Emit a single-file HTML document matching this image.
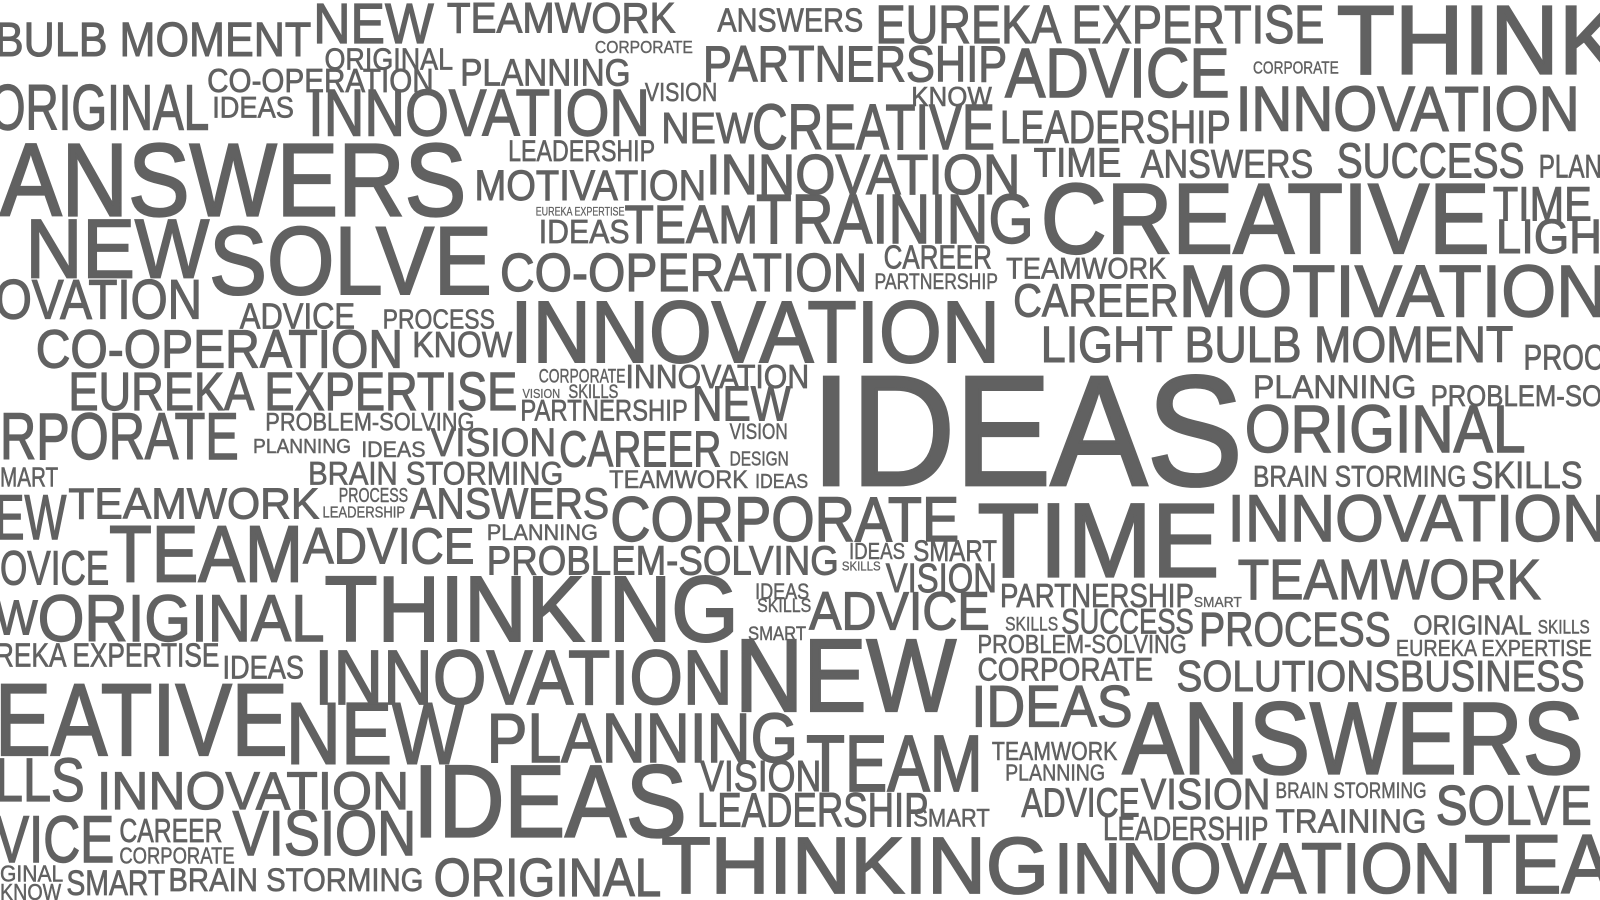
<!DOCTYPE html>
<html>
<head>
<meta charset="utf-8">
<style>
html,body{margin:0;padding:0;background:#fff;width:1600px;height:900px;overflow:hidden;}
svg{display:block;}
text{font-family:"Liberation Sans","DejaVu Sans",sans-serif;fill:#616161;stroke:#616161;}
</style>
</head>
<body>
<svg id="cloud" width="1600" height="900" viewBox="0 0 1600 900" xmlns="http://www.w3.org/2000/svg">
<defs><clipPath id="clip"><rect x="0" y="0" width="1600" height="900"/></clipPath></defs>
<g clip-path="url(#clip)">
<g id="words" transform="scale(1.0204)"></g>
</g>
</svg>
<script>
// word, left x, right x, baseline y, cap height
const words = [
["BULB MOMENT",-5,305,55,33],["NEW",307,425,42,39],["TEAMWORK",438,662,32,29],["ANSWERS",703,846,31,23],
["EUREKA EXPERTISE",858,1298,42,37],["THINK",1310,1590,72,67],["ORIGINAL",318,444,68,21],["CORPORATE",583,679,52,12],
["PARTNERSHIP",689,987,80,35],["ADVICE",985,1205,95,48],["CORPORATE",1228,1312,72,12],["CO-OPERATION",203,425,90,23],
["PLANNING",451,618,84,26],["ORIGINAL",-10,205,127,44],["IDEAS",208,288,115,20],["INNOVATION",302,637,133,45],
["VISION",632,703,99,18],["KNOW",893,972,104,19],["INNOVATION",1211,1548,128,43],["NEW",648,738,140,30],
["CREATIVE",737,975,146,44],["LEADERSHIP",980,1206,140,32],["LEADERSHIP",498,642,158,20],["ANSWERS",0,457,211,71],
["MOTIVATION",465,692,196,29],["INNOVATION",692,1000,190,39],["TIME",1013,1099,173,28],["ANSWERS",1118,1287,174,27],
["SUCCESS",1310,1494,174,34],["PLAN",1508,1570,174,22],["CREATIVE",1020,1460,248,68],["TIME",1463,1560,216,33],
["LIGH",1466,1570,248,33],["EUREKA EXPERTISE",525,612,211,8],["TEAM",612,743,238,37],["TRAINING",741,1013,238,48],
["IDEAS",528,617,238,23],["NEW",25,205,272,57],["SOLVE",205,482,288,66],["CO-OPERATION",490,850,285,37],
["CAREER",866,972,263,23],["PARTNERSHIP",857,978,283,15],["TEAMWORK",986,1143,273,20],["CAREER",993,1155,310,32],
["MOTIVATION",1155,1575,310,50],["OVATION",-5,198,312,38],["ADVICE",235,348,322,25],["PROCESS",375,485,322,19],
["INNOVATION",500,980,355,60],["CO-OPERATION",35,395,360,37],["KNOW",404,502,350,25],["LIGHT BULB MOMENT",1020,1483,355,35],
["PROC",1493,1572,362,24],["EUREKA EXPERTISE",67,507,402,37],["CORPORATE",528,613,375,13],["INNOVATION",613,793,380,23],
["VISION",512,549,390,9],["SKILLS",557,606,390,13],["IDEAS",795,1218,475,107],["PLANNING",1228,1388,390,22],
["PROBLEM-SO",1402,1570,398,20],["PARTNERSHIP",510,674,412,20],["NEW",678,775,412,34],["VISION",715,772,430,15],
["RPORATE",0,234,450,45],["PROBLEM-SOLVING",260,465,422,17],["ORIGINAL",1220,1495,443,46],["PLANNING",248,344,444,14],
["IDEAS",354,417,448,15],["VISION",422,545,447,27],["CAREER",548,707,457,35],["DESIGN",715,773,456,14],
["MART",0,57,477,19],["BRAIN STORMING",302,552,475,22],["TEAMWORK",597,733,478,17],["IDEAS",740,792,478,14],
["BRAIN STORMING",1228,1437,477,20],["SKILLS",1442,1551,478,26],["EW",-5,65,528,43],["TEAMWORK",67,313,508,30],
["PROCESS",332,400,492,14],["LEADERSHIP",316,397,507,11],["ANSWERS",402,597,508,30],["CORPORATE",598,940,530,43],
["TIME",958,1195,565,72],["INNOVATION",1203,1575,530,45],["TEAM",107,297,570,55],["ADVICE",297,465,552,35],
["PLANNING",477,586,529,15],["OVICE",0,107,573,33],["PROBLEM-SOLVING",477,822,563,28],["IDEAS",832,887,548,16],
["SKILLS",825,863,559,9],["SMART",895,977,550,20],["VISION",868,977,580,28],["TEAMWORK",1213,1510,587,39],
["W",-5,37,622,34],["ORIGINAL",37,318,628,45],["THINKING",318,724,628,64],["IDEAS",740,793,587,15],
["SKILLS",742,795,600,13],["ADVICE",793,970,617,37],["PARTNERSHIP",980,1170,595,23],["SMART",1170,1217,595,10],
["SKILLS",985,1037,618,13],["SUCCESS",1040,1170,621,24],["PROCESS",1175,1363,633,33],["ORIGINAL",1385,1501,622,19],
["SKILLS",1507,1558,621,13],["SMART",733,790,627,13],["REKA EXPERTISE",-5,215,653,23],["PROBLEM-SOLVING",958,1163,640,18],
["EUREKA EXPERTISE",1368,1560,643,16],["IDEAS",218,298,665,22],["INNOVATION",308,718,690,53],["NEW",720,937,697,71],
["CORPORATE",958,1130,667,22],["SOLUTIONS",1153,1372,677,30],["BUSINESS",1372,1553,677,30],["EATIVE",-5,282,740,70],
["NEW",280,455,748,60],["IDEAS",952,1110,712,40],["PLANNING",477,782,747,48],["ANSWERS",1100,1552,758,70],
["LLS",-5,83,785,42],["TEAMWORK",972,1095,745,18],["PLANNING",985,1083,765,16],["TEAM",790,963,775,55],
["VISION",686,805,775,30],["INNOVATION",95,401,793,36],["IDEAS",405,673,820,70],["ADVICE",1001,1117,800,28],
["VISION",1118,1245,793,30],["BRAIN STORMING",1250,1398,782,15],["SOLVE",1407,1560,808,38],["LEADERSHIP",683,910,810,33],
["SMART",895,970,810,17],["TRAINING",1250,1398,816,23],["LEADERSHIP",1081,1243,823,23],["VICE",-5,112,845,45],
["CAREER",117,218,825,23],["VISION",228,408,838,43],["CORPORATE",117,230,846,16],["THINKING",648,1028,875,55],
["INNOVATION",1033,1432,875,49],["TEA",1435,1580,875,57],["ORIGINAL",425,648,878,37],["BRAIN STORMING",165,415,873,22],
["SMART",65,162,877,24],["GINAL",0,62,864,16],["KNOW",0,60,882,16]
];
const g = document.getElementById('words');
const NS = 'http://www.w3.org/2000/svg';
words.forEach(function(w){
  const el = document.createElementNS(NS,'text');
  const fs = w[4]/0.70;
  el.setAttribute('x', w[1]);
  el.setAttribute('y', w[3]);
  el.setAttribute('font-size', fs.toFixed(1));
  el.setAttribute('stroke-width', (fs*0.022).toFixed(2));
  el.setAttribute('textLength', w[2]-w[1]);
  el.setAttribute('lengthAdjust', 'spacingAndGlyphs');
  el.textContent = w[0];
  
  
  g.appendChild(el);
});
</script>
</body>
</html>
